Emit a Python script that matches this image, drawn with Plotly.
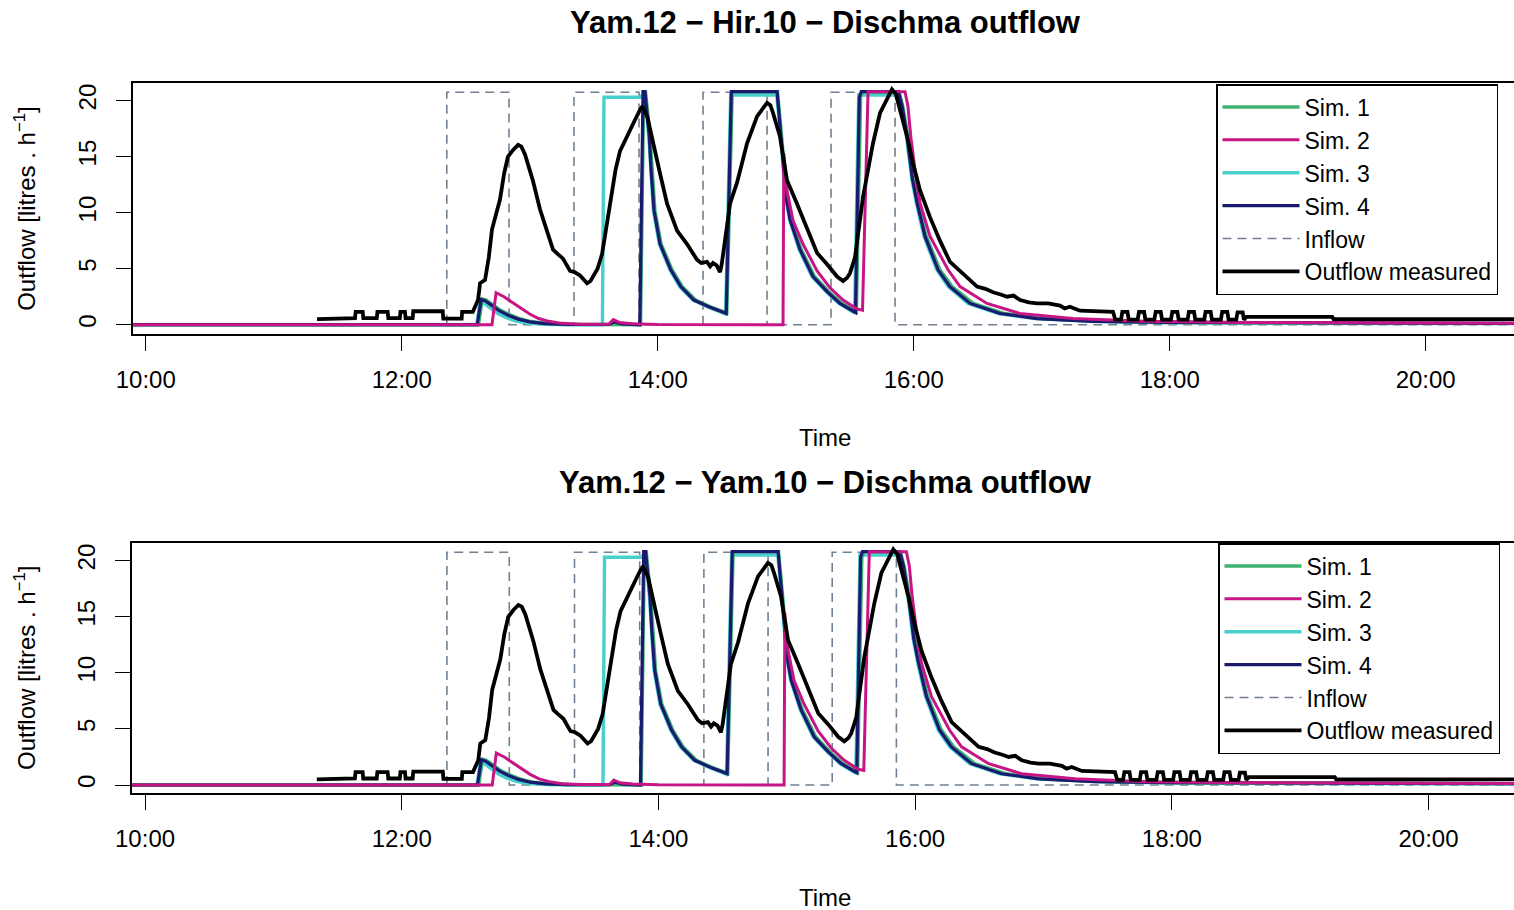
import plotly.graph_objects as go

# ---------------- data (time in decimal hours, outflow in litres/h) ----------------
tick_hours = [10, 12, 14, 16, 18, 20]
tick_labels = ["10:00", "12:00", "14:00", "16:00", "18:00", "20:00"]
y_ticks = [0, 5, 10, 15, 20]

panel_titles = ["Yam.12 \u2212 Hir.10 \u2212 Dischma outflow",
                "Yam.12 \u2212 Yam.10 \u2212 Dischma outflow"]

inflow_t = [9.898, 12.352, 12.352, 12.838, 12.838, 13.346, 13.346, 13.854, 13.854,
            14.354, 14.354, 14.854, 14.854, 15.354, 15.354, 15.854, 15.854, 20.70]
inflow_v = [0, 0, 20.75, 20.75, 0, 0, 20.75, 20.75, 0,
            0, 20.75, 20.75, 0, 0, 20.75, 20.75, 0, 0]

obs_t = [11.338, 11.518, 11.520, 11.635, 11.640, 11.695, 11.700, 11.805, 11.810, 11.890,
         11.895, 11.985, 11.990, 12.025, 12.030, 12.085, 12.090, 12.320, 12.325, 12.468,
         12.472, 12.555, 12.596, 12.612, 12.651, 12.680, 12.705, 12.740, 12.768, 12.800,
         12.830, 12.870, 12.909, 12.935, 12.963, 13.000, 13.026, 13.080, 13.135, 13.182,
         13.220, 13.260, 13.315, 13.350, 13.393, 13.430, 13.448, 13.475, 13.495, 13.530,
         13.565, 13.600, 13.627, 13.670, 13.705, 13.768, 13.823, 13.862, 13.880, 13.920,
         13.963, 14.018, 14.073, 14.151, 14.229, 14.270, 14.307, 14.340, 14.385, 14.410,
         14.432, 14.460, 14.487, 14.500, 14.510, 14.540, 14.565, 14.620, 14.698, 14.776,
         14.820, 14.854, 14.880, 14.901, 14.955, 15.010, 15.088, 15.166, 15.245, 15.323,
         15.401, 15.448, 15.480, 15.502, 15.541, 15.604, 15.682, 15.737, 15.799, 15.830,
         15.860, 15.900, 15.948, 15.995, 16.049, 16.127, 16.205, 16.284, 16.362, 16.440,
         16.495, 16.560, 16.620, 16.680, 16.729, 16.780, 16.831, 16.900, 16.963, 17.050,
         17.143, 17.180, 17.220, 17.299, 17.557, 17.575,
         17.620, 17.630, 17.670, 17.680, 17.750, 17.760, 17.800, 17.810,
         17.880, 17.890, 17.930, 17.940, 18.010, 18.020, 18.060, 18.070,
         18.140, 18.150, 18.190, 18.200, 18.270, 18.280, 18.320, 18.330,
         18.400, 18.410, 18.450, 18.460, 18.520, 18.530, 18.570, 18.580,
         18.600, 19.270, 19.280, 20.700]
obs_v = [0.50, 0.50, 0.58, 0.58, 1.15, 1.15, 0.58, 0.58, 1.15, 1.15,
         0.58, 0.58, 1.15, 1.15, 0.58, 0.58, 1.20, 1.20, 0.55, 0.55,
         1.15, 1.15, 2.20, 3.70, 4.00, 6.00, 8.50, 10.0, 11.2, 13.5,
         15.0, 15.6, 16.05, 15.9, 15.2, 13.8, 12.8, 10.3, 8.4, 6.7,
         6.3, 5.9, 4.8, 4.7, 4.4, 4.0, 3.7, 3.9, 4.3, 5.0,
         6.3, 8.8, 10.4, 13.8, 15.5, 16.9, 18.3, 19.2, 19.5, 18.5,
         16.2, 13.5, 10.8, 8.4, 7.2, 6.4, 5.8, 5.5, 5.6, 5.2,
         5.5, 5.3, 4.7, 5.4, 6.2, 8.8, 10.8, 12.7, 16.2, 18.6,
         19.3, 19.8, 19.6, 18.9, 16.8, 12.9, 10.8, 8.7, 6.4, 5.4,
         4.3, 3.9, 4.2, 4.6, 6.0, 11.4, 16.2, 18.9, 20.3, 21.0,
         20.6, 19.0, 16.8, 14.4, 12.0, 9.6, 7.5, 5.6, 4.8, 3.9,
         3.4, 3.2, 2.9, 2.7, 2.5, 2.6, 2.2, 2.0, 1.9, 1.9,
         1.7, 1.45, 1.6, 1.25, 1.15, 0.45,
         0.45, 1.15, 1.15, 0.45, 0.45, 1.15, 1.15, 0.45,
         0.45, 1.15, 1.15, 0.45, 0.45, 1.15, 1.15, 0.45,
         0.45, 1.15, 1.15, 0.45, 0.45, 1.15, 1.15, 0.45,
         0.45, 1.15, 1.15, 0.45, 0.45, 1.10, 1.10, 0.45,
         0.70, 0.70, 0.50, 0.50]

sim1_t = [9.898, 12.600, 12.630, 12.660, 12.710, 12.770, 12.840, 12.920, 13.010, 13.130,
          13.300, 13.866, 13.890, 13.905, 13.940, 13.955, 13.978, 14.027, 14.112, 14.192,
          14.296, 14.421, 14.540, 14.582, 14.936, 14.968, 15.008, 15.042, 15.122, 15.225,
          15.337, 15.440, 15.540, 15.552, 15.585, 15.600, 15.885, 15.915, 15.955, 15.998,
          16.034, 16.098, 16.205, 16.300, 16.465, 16.710, 17.000, 17.450, 18.000, 19.000, 20.700]
sim1_v = [0, 0, 2.30, 2.20, 1.80, 1.30, 0.90, 0.55, 0.28, 0.12,
          0.04, 0, 20.8, 20.8, 16.8, 13.8, 10.2, 7.2, 4.9, 3.4,
          2.2, 1.55, 1.05, 20.8, 20.8, 16.8, 11.4, 9.35, 6.7, 4.3,
          2.95, 1.9, 1.2, 1.15, 20.3, 20.8, 20.8, 19.5, 16.8, 13.0,
          10.9, 7.9, 4.9, 3.4, 1.9, 1.0, 0.55, 0.3, 0.2, 0.15, 0.12]

sim2_t = [9.898, 12.705, 12.737, 12.799, 12.850, 12.930, 13.000, 13.070, 13.150, 13.250,
          13.400, 13.620, 13.653, 13.700, 13.800, 14.000, 14.979, 14.985, 15.010, 15.057,
          15.135, 15.245, 15.346, 15.448, 15.557, 15.600, 15.643, 15.932, 15.955, 15.977,
          16.010, 16.049, 16.127, 16.268, 16.362, 16.573, 16.830, 17.245, 17.800, 18.600,
          19.500, 20.700]
sim2_v = [0, 0, 2.85, 2.5, 2.1, 1.5, 0.95, 0.55, 0.3, 0.12,
          0.05, 0.05, 0.45, 0.2, 0.08, 0.02, 0, 15.3, 12.0, 9.3,
          7.2, 4.8, 3.3, 2.2, 1.4, 1.3, 20.8, 20.8, 19.5, 16.8,
          13.8, 10.9, 7.9, 4.9, 3.4, 1.9, 1.0, 0.55, 0.3, 0.2,
          0.15, 0.13]

sim3_t = [9.898, 12.585, 12.612, 12.640, 12.690, 12.750, 12.820, 12.900, 13.000, 13.120,
          13.300, 13.568, 13.580, 13.862, 13.885, 13.900, 13.930, 13.944, 13.966, 14.012,
          14.095, 14.172, 14.275, 14.400, 14.520, 14.530, 14.570, 14.930, 14.960, 14.998,
          15.030, 15.105, 15.205, 15.315, 15.415, 15.520, 15.538, 15.570, 15.875, 15.905,
          15.943, 15.985, 16.020, 16.080, 16.180, 16.270, 16.425, 16.660, 16.950, 17.400,
          18.000, 19.000, 20.700]
sim3_v = [0, 0, 2.0, 1.95, 1.5, 1.0, 0.6, 0.3, 0.12, 0.04,
          0, 0, 20.3, 20.3, 20.5, 20.5, 16.8, 13.8, 10.2, 7.2,
          4.9, 3.4, 2.2, 1.55, 0.95, 0.95, 20.5, 20.5, 16.8, 11.4,
          9.35, 6.7, 4.3, 2.95, 1.9, 1.1, 1.05, 20.5, 20.5, 19.3,
          16.8, 13.0, 10.9, 7.9, 4.9, 3.4, 1.9, 1.0, 0.55, 0.3,
          0.18, 0.13, 0.10]

sim4_t = [9.898, 12.590, 12.620, 12.650, 12.700, 12.760, 12.830, 12.910, 13.000, 13.120,
          13.300, 13.620, 13.660, 13.720, 13.860, 13.885, 13.900, 13.934, 13.948, 13.971,
          14.018, 14.102, 14.180, 14.283, 14.409, 14.526, 14.535, 14.575, 14.932, 14.963,
          15.002, 15.034, 15.112, 15.213, 15.323, 15.424, 15.526, 15.545, 15.575, 15.590,
          15.880, 15.910, 15.948, 15.990, 16.026, 16.088, 16.190, 16.283, 16.440, 16.674,
          16.963, 17.400, 18.000, 19.000, 20.700]
sim4_v = [0, 0, 2.25, 2.15, 1.75, 1.25, 0.85, 0.5, 0.25, 0.1,
          0.03, 0.02, 0.25, 0.08, 0, 20.8, 20.8, 16.8, 13.8, 10.2,
          7.2, 4.9, 3.4, 2.2, 1.55, 1.0, 1.0, 20.8, 20.8, 16.8,
          11.4, 9.35, 6.7, 4.3, 2.95, 1.9, 1.16, 1.1, 20.3, 20.8,
          20.8, 19.5, 16.8, 13.0, 10.9, 7.9, 4.9, 3.4, 1.9, 1.0,
          0.55, 0.3, 0.2, 0.15, 0.12]

# ---------------- styling ----------------
W, H = 1514, 910
FONT = "Liberation Sans, Arial, Helvetica, sans-serif"
C_SIM1 = "#3CB371"
C_SIM2 = "#C71585"
C_SIM3 = "#48D1CC"
C_SIM4 = "#191970"
C_INFLOW = "#708090"
C_OBS = "#000000"

# panel geometry in pixels
panels = [
    dict(left=132.7, top=83.3, bottom=334.3, xr=[9.898, 20.69], yr=[-0.857, 21.55],
         title_y=22, time_y=437, legend_x=1216, legend_y=84),
    dict(left=131.7, top=542.7, bottom=793.3, xr=[9.896, 20.666], yr=[-0.74, 21.6],
         title_y=482, time_y=897, legend_x=1218, legend_y=543),
]

fig = go.Figure()

series = [
    # draw order: inflow, sim3, sim1, sim4, sim2, observed
    ("Inflow", inflow_t, inflow_v, C_INFLOW, 1.6, "9px,6px", 5),
    ("Sim. 3", sim3_t, sim3_v, C_SIM3, 3.4, "solid", 3),
    ("Sim. 1", sim1_t, sim1_v, C_SIM1, 3.4, "solid", 1),
    ("Sim. 4", sim4_t, sim4_v, C_SIM4, 3.2, "solid", 4),
    ("Sim. 2", sim2_t, sim2_v, C_SIM2, 3.0, "solid", 2),
    ("Outflow measured", obs_t, obs_v, C_OBS, 3.8, "solid", 6),
]

for i, p in enumerate(panels):
    xa = "x" if i == 0 else "x2"
    ya = "y" if i == 0 else "y2"
    lg = "legend" if i == 0 else "legend2"
    for name, t, v, col, w, dash, rank in series:
        fig.add_trace(go.Scatter(
            x=t, y=v, mode="lines", name=name, xaxis=xa, yaxis=ya, legend=lg,
            legendrank=rank, line=dict(color=col, width=w, dash=dash),
            hoverinfo="skip"))

layout = dict(
    width=W, height=H, margin=dict(l=0, r=0, t=0, b=0, pad=0, autoexpand=False),
    paper_bgcolor="white", plot_bgcolor="white",
    font=dict(family=FONT, size=24, color="black"),
    showlegend=True,
    annotations=[],
)

for i, p in enumerate(panels):
    sfx = "" if i == 0 else "2"
    layout["xaxis" + sfx] = dict(
        domain=[p["left"] / W, 1.0], range=p["xr"], anchor="y" + sfx,
        tickmode="array", tickvals=tick_hours, ticktext=tick_labels,
        ticks="outside", ticklen=15, tickwidth=1.2, tickcolor="black",
        showline=True, linecolor="black", linewidth=1.5, mirror=True,
        showgrid=False, zeroline=False, ticklabelstandoff=8, automargin=False,
        tickfont=dict(family=FONT, size=24, color="black"))
    layout["yaxis" + sfx] = dict(
        domain=[1 - p["bottom"] / H, 1 - p["top"] / H], range=p["yr"], anchor="x" + sfx,
        tickmode="array", tickvals=y_ticks, ticktext=[str(v) for v in y_ticks],
        tickangle=-90, ticks="outside", ticklen=15, tickwidth=1.2, tickcolor="black",
        showline=True, linecolor="black", linewidth=1.5, mirror=False,
        showgrid=False, zeroline=False, ticklabelstandoff=10, automargin=False,
        tickfont=dict(family=FONT, size=24, color="black"))
    legend_key = "legend" if i == 0 else "legend2"
    layout[legend_key] = dict(
        x=p["legend_x"] / W, y=1 - p["legend_y"] / H, xanchor="left", yanchor="top",
        bgcolor="white", bordercolor="black", borderwidth=1.5,
        font=dict(family=FONT, size=23, color="black"),
        tracegroupgap=0, itemwidth=77, traceorder="normal")
    layout["annotations"] += [
        dict(text="<b>" + panel_titles[i] + "</b>", xref="paper", yref="paper",
             x=825 / W, y=1 - p["title_y"] / H, xanchor="center", yanchor="middle",
             showarrow=False, font=dict(family=FONT, size=31, color="black")),
        dict(text="Time", xref="paper", yref="paper",
             x=825 / W, y=1 - p["time_y"] / H, xanchor="center", yanchor="middle",
             showarrow=False, font=dict(family=FONT, size=24, color="black")),
        dict(text="Outflow [litres . h<sup>\u22121</sup>]", xref="paper", yref="paper",
             x=25 / W, y=1 - (p["top"] + p["bottom"]) / 2 / H, xanchor="center",
             yanchor="middle", textangle=-90, showarrow=False,
             font=dict(family=FONT, size=24, color="black")),
    ]

fig.update_layout(**layout)
fig.write_html("out.html")
